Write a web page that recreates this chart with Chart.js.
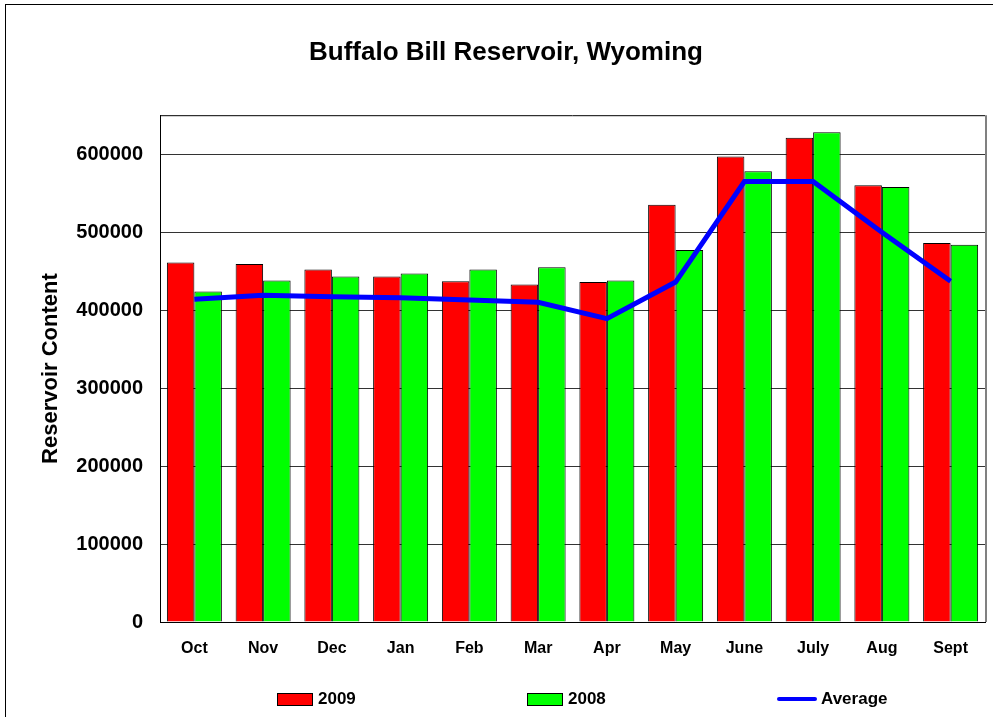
<!DOCTYPE html>
<html lang="en">
<head>
    <meta charset="UTF-8">
    <title>Buffalo Bill Reservoir, Wyoming</title>
    <script src="https://cdn.jsdelivr.net/npm/chart.js"></script>
    <style>
        html, body {
            margin: 0;
            padding: 0;
            background: #ffffff;
            overflow: hidden;
        }
        .frame {
            position: absolute;
            left: 5px;
            top: 4px;
            width: 1000px;
            height: 800px;
            border: 1px solid #000;
        }
        .wrap {
            position: absolute;
            left: 0;
            top: 0;
            width: 993px;
            height: 717px;
        }
        #legend {
            position: absolute;
            left: 277px;
            top: 689px;
            display: flex;
            font-family: "Liberation Sans", Arial, sans-serif;
            font-weight: bold;
            font-size: 17px;
            color: #000;
        }
        .item {
            width: 250px;
            display: flex;
            align-items: center;
            height: 20px;
        }
        .swatch {
            width: 34px;
            height: 11px;
            border: 1px solid #000;
            margin-right: 5px;
        }
        .lineswatch {
            width: 40px;
            height: 4px;
            border-radius: 2px;
            margin-right: 4px;
        }
    </style>
</head>
<body>
    <div class="frame"></div>
    <div class="wrap">
        <canvas id="chart"></canvas>
    </div>
    <div id="legend"></div>

    <script>
        const months = ["Oct", "Nov", "Dec", "Jan", "Feb", "Mar", "Apr", "May", "June", "July", "Aug", "Sept"];
        const values2009 = [461000, 459000, 452000, 443000, 437000, 433000, 436000, 535000, 597000, 621000, 560000, 486000];
        const values2008 = [424000, 438000, 443000, 447000, 452000, 455000, 438000, 477000, 578000, 628000, 558000, 484000];
        const averageValues = [414000, 419000, 417000, 416000, 413000, 410000, 389000, 436000, 565000, 565000, 500000, 437000];
        const yTicks = [0, 100000, 200000, 300000, 400000, 500000, 600000];

        const font = "'Liberation Sans', Arial, sans-serif";

        // frame around the plot area: black top, grey shadow on the right
        const plotFrame = {
            id: "plotFrame",
            afterDraw(chart) {
                const a = chart.chartArea, ctx = chart.ctx;
                ctx.save();
                ctx.strokeStyle = "#000";
                ctx.lineWidth = 1;
                ctx.beginPath();
                ctx.moveTo(a.left, a.top + 0.5);
                ctx.lineTo(a.right, a.top + 0.5);
                ctx.stroke();
                ctx.strokeStyle = "#808080";
                ctx.lineWidth = 2;
                ctx.beginPath();
                ctx.moveTo(a.right + 1, a.top);
                ctx.lineTo(a.right + 1, a.bottom);
                ctx.stroke();
                ctx.restore();
            }
        };

        const chart = new Chart(document.getElementById("chart"), {
            type: "bar",
            data: {
                labels: months,
                datasets: [
                    {
                        label: "2009",
                        data: values2009,
                        backgroundColor: "#ff0000",
                        borderColor: "#000000",
                        borderWidth: 1,
                        order: 2
                    },
                    {
                        label: "2008",
                        data: values2008,
                        backgroundColor: "#00ff00",
                        borderColor: "#000000",
                        borderWidth: 1,
                        order: 2
                    },
                    {
                        type: "line",
                        label: "Average",
                        data: averageValues,
                        borderColor: "#0000ff",
                        backgroundColor: "#0000ff",
                        borderWidth: 5,
                        pointRadius: 0,
                        tension: 0,
                        order: 1
                    }
                ]
            },
            options: {
                responsive: true,
                maintainAspectRatio: false,
                animation: false,
                layout: { padding: { left: 27, right: 8, top: 5, bottom: 0 } },
                datasets: { bar: { categoryPercentage: 0.8, barPercentage: 1.0 } },
                plugins: {
                    legend: { display: false },
                    tooltip: { enabled: false },
                    title: {
                        display: true,
                        text: "Buffalo Bill Reservoir, Wyoming",
                        color: "#000",
                        font: { family: font, size: 26, weight: "bold" },
                        padding: { top: 32, bottom: 47 }
                    }
                },
                scales: {
                    x: {
                        grid: { display: false, drawTicks: false },
                        border: { color: "#000", width: 1 },
                        ticks: {
                            color: "#000",
                            padding: 17,
                            font: { family: font, size: 16, weight: "bold" }
                        },
                        afterFit: s => { s.height = 95; }
                    },
                    y: {
                        min: 0,
                        max: 650000,
                        grid: { color: "#333", lineWidth: 1, drawTicks: false },
                        border: { color: "#000", width: 1 },
                        afterBuildTicks: s => { s.ticks = yTicks.map(v => ({ value: v })); },
                        ticks: {
                            color: "#000",
                            padding: 17,
                            font: { family: font, size: 20, weight: "bold" },
                            callback: v => String(v)
                        },
                        title: {
                            display: true,
                            text: "Reservoir Content",
                            color: "#000",
                            font: { family: font, size: 22, weight: "bold" },
                            padding: { top: 11, bottom: 0 }
                        },
                        afterFit: s => { s.width = 133; }
                    }
                }
            },
            plugins: [plotFrame]
        });

        // legend laid out wide like the original
        const legend = document.getElementById("legend");
        chart.data.datasets.forEach(ds => {
            const item = document.createElement("div");
            item.className = "item";
            const sw = document.createElement("div");
            if (ds.type === "line") {
                sw.className = "lineswatch";
                sw.style.background = ds.borderColor;
            } else {
                sw.className = "swatch";
                sw.style.background = ds.backgroundColor;
            }
            const txt = document.createElement("span");
            txt.textContent = ds.label;
            item.appendChild(sw);
            item.appendChild(txt);
            legend.appendChild(item);
        });
    </script>
</body>
</html>
